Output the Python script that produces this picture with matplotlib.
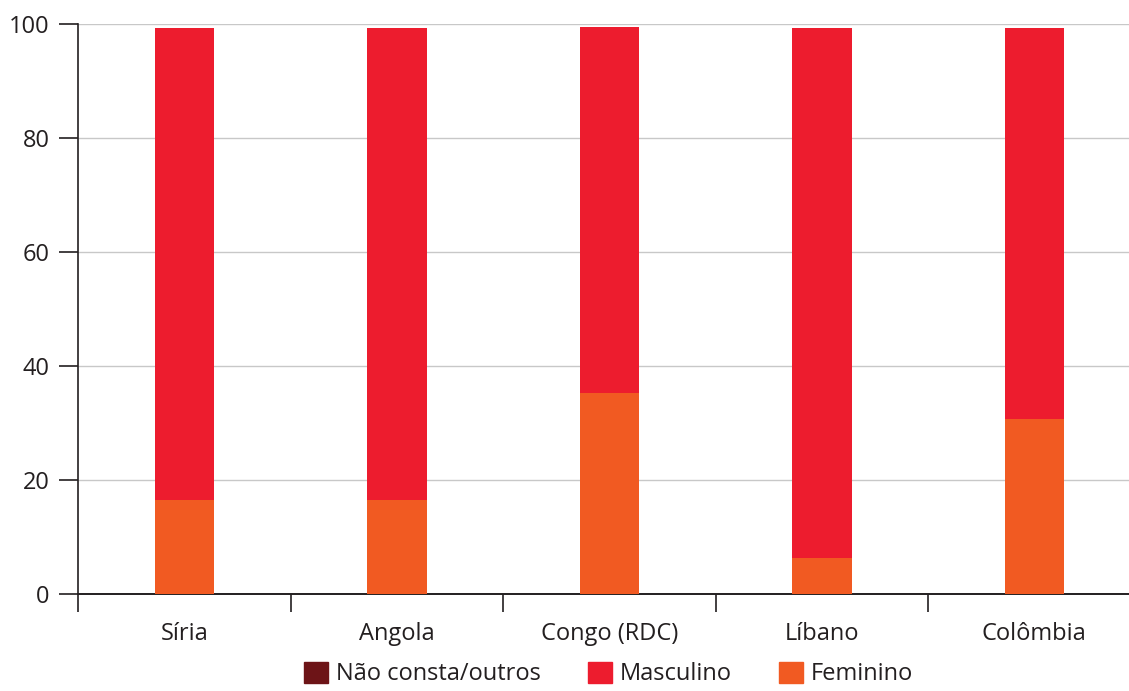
import numpy as np
import matplotlib.pyplot as plt
from matplotlib.patches import Patch

plt.rcParams['font.family'] = ['Open Sans', 'DejaVu Sans']

paises = ["Síria", "Angola", "Congo (RDC)", "Líbano", "Colômbia"]
feminino = [16.5, 16.5, 35.3, 6.3, 30.7]
masculino = [82.8, 82.8, 64.2, 93.0, 68.6]
nao_consta = [0.0, 0.0, 0.0, 0.0, 0.0]

cor_nc = '#6d1417'
cor_masc = '#ed1c2e'
cor_fem = '#f15a22'
texto = '#231f20'

fig = plt.figure(figsize=(11.29, 6.91), dpi=100)
ax = fig.add_axes([0.0691, 0.1404, 0.9411, 0.8249])

x = np.arange(len(paises)) + 0.5
fem = np.array(feminino)
masc = np.array(masculino)
ax.bar(x, fem, width=0.28, color=cor_fem, zorder=3)
ax.bar(x, masc, width=0.28, bottom=fem, color=cor_masc, zorder=3)
ax.bar(x, nao_consta, width=0.28, bottom=fem + masc, color=cor_nc, zorder=3)

ax.set_xlim(0, 5)
ax.set_ylim(0, 100)
ax.set_yticks(range(0, 101, 20))
ax.yaxis.grid(True, color='#c8c8c8', linewidth=1)
ax.set_axisbelow(True)

ax.set_xticks(range(0, 6))
ax.set_xticklabels([])
ax.set_xticks(x, minor=True)
ax.set_xticklabels(paises, minor=True)
ax.tick_params(axis='x', which='major', direction='out', length=13, width=1.2, color=texto)
ax.tick_params(axis='x', which='minor', length=0, pad=20, labelsize=17, labelcolor=texto)
ax.tick_params(axis='y', direction='out', length=13.5, width=1.2, color=texto, pad=7,
               labelsize=17, labelcolor=texto)

for s in ['top', 'right']:
    ax.spines[s].set_visible(False)
ax.spines['left'].set_color(texto)
ax.spines['bottom'].set_color(texto)
ax.spines['left'].set_linewidth(1.2)
ax.spines['bottom'].set_linewidth(1.4)

handles = [Patch(color=cor_nc), Patch(color=cor_masc), Patch(color=cor_fem)]
nomes = ["Não consta/outros", "Masculino", "Feminino"]
fig.legend(handles, nomes, loc='lower center', bbox_to_anchor=(0.539, -0.024), ncol=3,
           frameon=False, fontsize=17, handlelength=1.0, handleheight=1.0,
           handletextpad=0.35, columnspacing=2.0, labelcolor=texto)

fig.savefig('out.png', dpi=100)
